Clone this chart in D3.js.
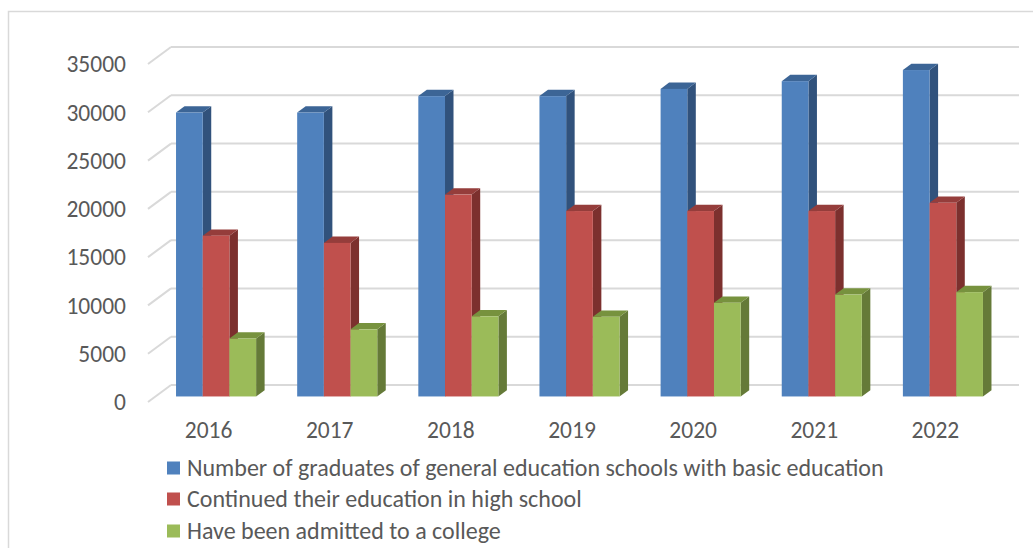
<!DOCTYPE html>
<html><head><meta charset="utf-8">
<script src="https://cdn.jsdelivr.net/npm/d3@7"></script>
<style>html,body{margin:0;padding:0;background:#fff;}svg{display:block;}</style>
</head><body>
<svg id="chart" width="1033" height="548"></svg>
<script>
const years = ["2016","2017","2018","2019","2020","2021","2022"];
const seriesNames = [
  "Number of graduates of general education schools with basic education",
  "Continued their education in high school",
  "Have been admitted to a college"
];
const graduates = [29400, 29400, 31100, 31100, 31850, 32650, 33800];
const highSchool = [16650, 15900, 20900, 19200, 19200, 19200, 20050];
const college = [6000, 6950, 8300, 8250, 9700, 10550, 10800];
const yTicks = [0, 5000, 10000, 15000, 20000, 25000, 30000, 35000];
const seriesData = [graduates, highSchool, college];
const fills = [
  {front:"#4F81BD", top:"#3C6596", side:"#31527C"},
  {front:"#C0504D", top:"#953D3B", side:"#7C302E"},
  {front:"#9BBB59", top:"#77923E", side:"#657A38"}
];

const svg = d3.select("#chart");
const FONT = "Carlito, Lato, 'Liberation Sans', sans-serif";
const textColor = "#595959";

svg.append("rect").attr("x",8.5).attr("y",11.5).attr("width",1040).attr("height",560)
  .attr("fill","none").attr("stroke","#d9d9d9").attr("stroke-width",1.5);

const x0 = 148, x1 = 996, yBase = 402;
const DX = 23, DY = -17;
const y = d3.scaleLinear().domain([0,35000]).range([0,338]);
const xBand = d3.scaleBand().domain(years).range([x0,x1]).paddingInner(0.339).paddingOuter(0.1695);
const xSeries = d3.scaleBand().domain(d3.range(3)).range([0,xBand.bandwidth()]);

const g = svg.append("g");
yTicks.forEach(t => {
  const yf = yBase - y(t);
  g.append("line").attr("x1",x0+DX).attr("x2",x1+DX).attr("y1",yf+DY).attr("y2",yf+DY)
    .attr("stroke","#d9d9d9").attr("stroke-width",2);
  g.append("line").attr("x1",x0).attr("y1",yf).attr("x2",x0+DX).attr("y2",yf+DY)
    .attr("stroke","#d9d9d9").attr("stroke-width",2);
  g.append("text").attr("x",126).attr("y",yf).attr("dy","0.35em").attr("text-anchor","end")
    .attr("font-family",FONT).attr("font-size",23.5).attr("fill",textColor).text(t);
});

const tF = 0.326, tB = 0.696;
const fdx = DX*tF, fdy = DY*tF;
const bdx = DX*(tB-tF), bdy = DY*(tB-tF);
const bars = svg.append("g");
years.forEach((yr,i) => {
  seriesData.forEach((arr,s) => {
    const v = arr[i];
    const xl = xBand(yr) + xSeries(s) + fdx;
    const xr = xl + xSeries.bandwidth();
    const yb = yBase + fdy;
    const yt = yb - y(v);
    const c = fills[s];
    bars.append("polygon")
      .attr("points",[[xr,yt],[xr+bdx,yt+bdy],[xr+bdx,yb+bdy],[xr,yb]].map(p=>p.join(",")).join(" "))
      .attr("fill",c.side);
    bars.append("polygon")
      .attr("points",[[xl,yt],[xl+bdx,yt+bdy],[xr+bdx,yt+bdy],[xr,yt]].map(p=>p.join(",")).join(" "))
      .attr("fill",c.top);
    bars.append("rect").attr("x",xl).attr("y",yt).attr("width",xr-xl).attr("height",yb-yt)
      .attr("fill",c.front);
  });
  svg.append("text").attr("x",xBand(yr)+xBand.bandwidth()/2).attr("y",438)
    .attr("text-anchor","middle").attr("font-family",FONT).attr("font-size",23.5)
    .attr("fill",textColor).text(yr);
});

const legendY = [468, 499, 531];
seriesNames.forEach((name,s) => {
  svg.append("rect").attr("x",167).attr("y",legendY[s]-6.5).attr("width",13).attr("height",13)
    .attr("fill",fills[s].front);
  svg.append("text").attr("x",187).attr("y",legendY[s]).attr("dy","0.35em")
    .attr("font-family",FONT).attr("font-size",24).attr("fill",textColor).text(name);
});
</script>
</body></html>
